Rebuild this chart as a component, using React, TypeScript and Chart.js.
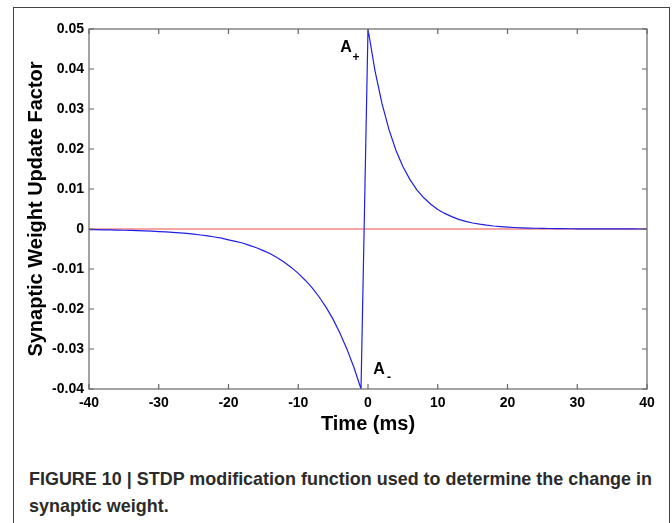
import { useEffect, useRef } from "react";
import { Chart, registerables } from "chart.js";

Chart.register(...registerables);

// Pre-synaptic before post-synaptic (negative time) branch
const negTimes = [
  -40, -39, -38, -37, -36, -35, -34, -33, -32, -31, -30, -29, -28, -27, -26, -25, -24, -23, -22, -21,
  -20, -19, -18, -17, -16, -15, -14, -13, -12, -11, -10, -9, -8, -7, -6, -5, -4, -3, -2, -1,
];
const negValues = [
  -0.00015, -0.00018, -0.0002, -0.00023, -0.00027, -0.00031, -0.00036, -0.00041, -0.00048, -0.00055,
  -0.00064, -0.00073, -0.00085, -0.00098, -0.0011, -0.0013, -0.0015, -0.0017, -0.002, -0.0023,
  -0.0027, -0.0031, -0.0035, -0.0041, -0.0047, -0.0054, -0.0062, -0.0072, -0.0083, -0.0096,
  -0.0111, -0.0128, -0.0147, -0.017, -0.0196, -0.0226, -0.0261, -0.0301, -0.0347, -0.04,
];

// Positive time branch
const posTimes = [
  0, 1, 2, 3, 4, 5, 6, 7, 8, 9, 10, 11, 12, 13, 14, 15, 16, 17, 18, 19, 20,
  21, 22, 23, 24, 25, 26, 27, 28, 29, 30, 31, 32, 33, 34, 35, 36, 37, 38, 39, 40,
];
const posValues = [
  0.05, 0.0396, 0.0314, 0.0249, 0.0197, 0.0156, 0.0124, 0.0098, 0.0078, 0.0062, 0.0049,
  0.0039, 0.0031, 0.0024, 0.0019, 0.0015, 0.0012, 0.00095, 0.00075, 0.0006, 0.00047,
  0.00037, 0.0003, 0.00023, 0.00019, 0.00015, 0.00012, 0.00009, 0.00007, 0.00006, 0.00005,
  0.00004, 0.00003, 0.00002, 0.00002, 0.00001, 0.00001, 0.00001, 0.00001, 0, 0,
];

// Zero reference line
const zeroTimes = [-40, 40];
const zeroValues = [0, 0];

const xTickValues = [-40, -30, -20, -10, 0, 10, 20, 30, 40];
const xTickLabels = ["-40", "-30", "-20", "-10", "0", "10", "20", "30", "40"];
const yTickValues = [-0.04, -0.03, -0.02, -0.01, 0, 0.01, 0.02, 0.03, 0.04, 0.05];
const yTickLabels = ["-0.04", "-0.03", "-0.02", "-0.01", "0", "0.01", "0.02", "0.03", "0.04", "0.05"];

const captionLine1 = "FIGURE 10 | STDP modification function used to determine the change in";
const captionLine2 = "synaptic weight.";

const FONT = "'Liberation Sans', Arial, Helvetica, sans-serif";
const CANVAS_W = 672;
const CANVAS_H = 450;
const CAPTION_WIDTH = 623;

const axisPlugin = {
  id: "matlabAxes",
  afterDraw(chart: any) {
    const { ctx, chartArea, scales } = chart;
    const { left, right, top, bottom } = chartArea;
    const x = scales.x;
    const y = scales.y;
    ctx.save();
    ctx.strokeStyle = "#666666";
    ctx.lineWidth = 1.2;
    ctx.strokeRect(left, top, right - left, bottom - top);
    const tl = 5;
    ctx.beginPath();
    xTickValues.forEach((v) => {
      const px = x.getPixelForValue(v);
      ctx.moveTo(px, bottom);
      ctx.lineTo(px, bottom - tl);
      ctx.moveTo(px, top);
      ctx.lineTo(px, top + tl);
    });
    yTickValues.forEach((v) => {
      const py = y.getPixelForValue(v);
      ctx.moveTo(left, py);
      ctx.lineTo(left + tl, py);
      ctx.moveTo(right, py);
      ctx.lineTo(right - tl, py);
    });
    ctx.stroke();

    // Labels A+ and A- anchored at the peak and trough of the curve
    const peakX = x.getPixelForValue(posTimes[0]);
    const peakY = y.getPixelForValue(posValues[0]);
    const lowX = x.getPixelForValue(negTimes[negTimes.length - 1]);
    const lowY = y.getPixelForValue(negValues[negValues.length - 1]);
    ctx.fillStyle = "#000";
    ctx.textAlign = "center";
    ctx.textBaseline = "middle";
    ctx.font = `bold 16px ${FONT}`;
    ctx.fillText("A", peakX - 22, peakY + 19);
    ctx.fillText("A", lowX + 18, lowY - 19);
    ctx.font = `bold 12px ${FONT}`;
    ctx.fillText("+", peakX - 12, peakY + 29);
    ctx.fillText("-", lowX + 28, lowY - 11);
    ctx.restore();
  },
};

export default function App() {
  const canvasRef = useRef<HTMLCanvasElement | null>(null);
  const line1Ref = useRef<HTMLSpanElement | null>(null);
  const line2Ref = useRef<HTMLSpanElement | null>(null);

  useEffect(() => {
    // condense caption to the width of the original condensed typeface
    const l1 = line1Ref.current;
    const l2 = line2Ref.current;
    if (l1 && l2) {
      const w = l1.getBoundingClientRect().width;
      const k = w > 0 ? CAPTION_WIDTH / w : 1;
      l1.style.transform = `scaleX(${k})`;
      l2.style.transform = `scaleX(${k})`;
    }
  }, []);

  useEffect(() => {
    if (!canvasRef.current) return;
    const curve = negTimes
      .map((t, i) => ({ x: t, y: negValues[i] }))
      .concat(posTimes.map((t, i) => ({ x: t, y: posValues[i] })));
    const zero = zeroTimes.map((t, i) => ({ x: t, y: zeroValues[i] }));

    const chart = new Chart(canvasRef.current, {
      type: "line",
      data: {
        datasets: [
          {
            data: curve,
            borderColor: "#1f1fe6",
            borderWidth: 1.2,
            pointRadius: 0,
            tension: 0,
            fill: false,
          },
          {
            data: zero,
            borderColor: "#ee4c4c",
            borderWidth: 1,
            pointRadius: 0,
            tension: 0,
            fill: false,
          },
        ],
      },
      options: {
        animation: false,
        responsive: false,
        maintainAspectRatio: false,
        layout: { padding: { left: 0, top: 29, right: 25, bottom: 0 } },
        plugins: { legend: { display: false }, tooltip: { enabled: false } },
        scales: {
          x: {
            type: "linear",
            min: -40,
            max: 40,
            grid: { display: false, drawTicks: false },
            border: { display: false },
            afterBuildTicks: (s: any) => {
              s.ticks = xTickValues.map((v) => ({ value: v }));
            },
            afterFit: (s: any) => {
              s.height = CANVAS_H - 389;
            },
            ticks: {
              callback: (_v: any, i: number) => xTickLabels[i],
              font: { family: FONT, size: 14, weight: "bold" },
              color: "#000",
              padding: 6,
              maxRotation: 0,
              autoSkip: false,
            },
            title: {
              display: true,
              text: "Time (ms)",
              font: { family: FONT, size: 20, weight: "bold" },
              color: "#000",
              padding: { top: 0, bottom: 14 },
            },
          },
          y: {
            type: "linear",
            min: -0.04,
            max: 0.05,
            grid: { display: false, drawTicks: false },
            border: { display: false },
            afterBuildTicks: (s: any) => {
              s.ticks = yTickValues.map((v) => ({ value: v }));
            },
            afterFit: (s: any) => {
              s.width = 89;
            },
            ticks: {
              callback: (_v: any, i: number) => yTickLabels[i],
              font: { family: FONT, size: 14, weight: "bold" },
              color: "#000",
              padding: 5,
              autoSkip: false,
            },
            title: {
              display: true,
              text: "Synaptic Weight Update Factor",
              font: { family: FONT, size: 20, weight: "bold" },
              color: "#000",
              padding: { top: 24, bottom: 0 },
            },
          },
        },
      },
      plugins: [axisPlugin],
    } as any);
    return () => chart.destroy();
  }, []);

  const lineStyle: any = {
    display: "inline-block",
    transformOrigin: "0 0",
    whiteSpace: "nowrap",
  };

  return (
    <div
      style={{
        position: "absolute",
        left: 0,
        top: 0,
        width: 672,
        height: 523,
        overflow: "hidden",
        background: "#fff",
      }}
    >
      <div
        style={{
          position: "absolute",
          left: 13,
          top: 7,
          width: 655,
          height: 560,
          border: "1px solid #444",
          boxSizing: "content-box",
        }}
      />
      <canvas
        ref={canvasRef}
        width={CANVAS_W}
        height={CANVAS_H}
        style={{ position: "absolute", left: 0, top: 0, width: CANVAS_W, height: CANVAS_H }}
      />
      <div
        style={{
          position: "absolute",
          left: 29,
          top: 465,
          width: 760,
          fontFamily: FONT,
          fontWeight: "bold",
          fontSize: 19,
          lineHeight: "27px",
          color: "#2b2b2b",
        }}
      >
        <span ref={line1Ref} style={lineStyle}>{captionLine1}</span>
        <br />
        <span ref={line2Ref} style={lineStyle}>{captionLine2}</span>
      </div>
    </div>
  );
}
